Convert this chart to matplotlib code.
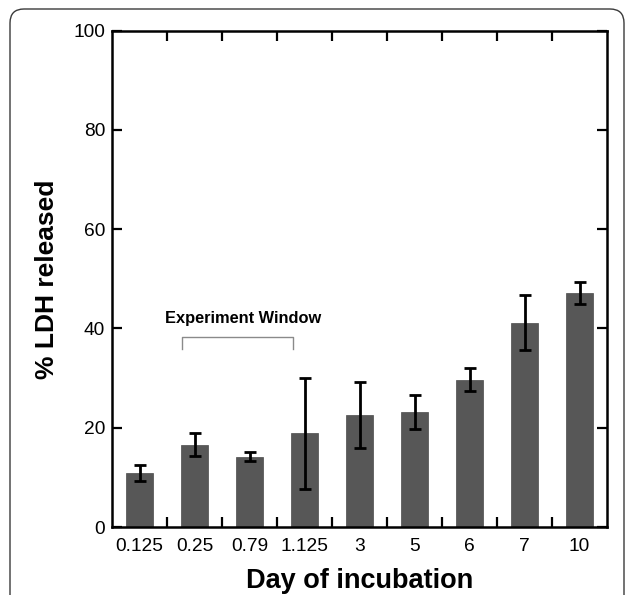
import matplotlib
matplotlib.use("Agg")
import matplotlib.pyplot as plt
from matplotlib.patches import FancyBboxPatch
from matplotlib.transforms import IdentityTransform
import numpy as np

categories = ["0.125", "0.25", "0.79", "1.125", "3", "5", "6", "7", "10"]
values = [10.9, 16.6, 14.2, 18.9, 22.6, 23.1, 29.7, 41.2, 47.1]
errors = [1.6, 2.3, 0.9, 11.2, 6.6, 3.4, 2.3, 5.5, 2.2]
yticks = [0, 20, 40, 60, 80, 100]

plt.rcParams['font.family'] = ['Liberation Sans', 'DejaVu Sans']

fig = plt.figure(figsize=(6.27, 5.95), dpi=100)
ax = fig.add_axes([112/627, (595-527)/595, (607-112)/627, (527-30.7)/595])

x = np.arange(len(categories))
ax.bar(x, values, width=0.5, color='#575757', edgecolor='#4a4a4a', linewidth=0.5, zorder=2)
ax.errorbar(x, values, yerr=errors, fmt='none', ecolor='black', elinewidth=2,
            capsize=4, capthick=2, zorder=3)

ax.set_xlim(-0.5, len(categories) - 0.5)
ax.set_ylim(0, 100)
ax.set_yticks(yticks)
ax.set_yticklabels([str(v) for v in yticks], fontsize=13.8)

ax.set_xticks(np.arange(len(categories) - 1) + 0.5)
ax.set_xticklabels([])
ax.set_xticks(x, minor=True)
ax.set_xticklabels(categories, minor=True, fontsize=13.8)
ax.tick_params(axis='x', which='minor', length=0, pad=8)
ax.tick_params(axis='x', which='major', direction='in', length=7, width=1.6, top=True)
ax.tick_params(axis='y', direction='in', length=7, width=1.6, right=True, pad=5)

for s in ax.spines.values():
    s.set_linewidth(1.8)

ax.set_ylabel('% LDH released', fontsize=19, fontweight='bold', labelpad=10)
ax.set_xlabel('Day of incubation', fontsize=19.5, fontweight='bold', labelpad=9)

# Experiment window bracket
bx0, bx1, by_top, by_bot = 0.77, 2.79, 38.2, 35.9
ax.plot([bx0, bx0, bx1, bx1], [by_bot, by_top, by_top, by_bot], color='#8a8a8a', lw=1, zorder=1)
ax.text(1.88, 41.2, 'Experiment Window', fontsize=11.8, fontweight='bold',
        ha='center', va='baseline')

# outer rounded border
border = FancyBboxPatch((10, -40), 614, 595 - 9 + 40,
                        boxstyle='round,pad=0,rounding_size=14',
                        transform=IdentityTransform(), fill=False,
                        edgecolor='#3a3a3a', linewidth=1.0)
fig.add_artist(border)

fig.savefig('out.png', dpi=100)
